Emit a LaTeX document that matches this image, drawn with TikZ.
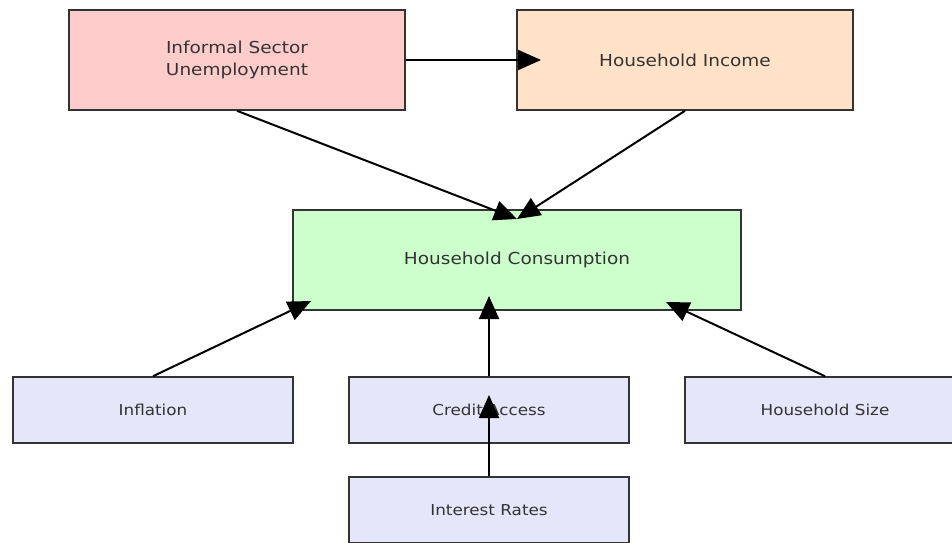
\documentclass[tikz,border=0pt]{standalone}
\usepackage{fontspec}
\setmainfont[FakeStretch=1.12]{DejaVu Sans}
\usetikzlibrary{arrows.meta}
\definecolor{txt}{HTML}{333333}
\definecolor{edge}{HTML}{333333}
\definecolor{redfill}{HTML}{FFCCCC}
\definecolor{orangefill}{HTML}{FFE2C8}
\definecolor{greenfill}{HTML}{CCFFCC}
\definecolor{bluefill}{HTML}{E6E6FA}
\tikzset{
  box/.style={draw=edge, line width=1.6pt, rectangle, inner sep=0pt, align=center, text=txt},
  bigbox/.style={box, minimum width=336pt, minimum height=100pt, font=\fontsize{16.5}{22}\selectfont},
  smallbox/.style={box, minimum width=280pt, minimum height=66pt, font=\fontsize{15}{19}\selectfont},
  conn/.style={line width=2pt, black, -{Triangle[length=23pt, width=20pt]}}
}
\begin{document}
\begin{tikzpicture}[x=1pt, y=-1pt]
\useasboundingbox (0,0) rectangle (952,542);
\begin{scope}
\clip (0,0) rectangle (952,542);
\node[bigbox, fill=redfill] (inf) at (237,60) {Informal Sector\\Unemployment};
\node[bigbox, fill=orangefill] (inc) at (685,60) {Household Income};
\node[bigbox, fill=greenfill, minimum width=448pt] (con) at (517,260) {Household Consumption};
\node[smallbox, fill=bluefill] (infl) at (153,410) {Inflation};
\node[smallbox, fill=bluefill] (cred) at (489,410) {Credit Access};
\node[smallbox, fill=bluefill] (size) at (825,410) {Household Size};
\node[smallbox, fill=bluefill] (int) at (489,510) {Interest Rates};
\coordinate (t1) at (541,60);
\coordinate (t2) at (517,219);
\coordinate (t3) at (311,301);
\coordinate (t4) at (489,296);
\coordinate (t5) at (666,302);
\coordinate (t6) at (489,395);
\draw[conn] (inf.east) -- (t1);
\draw[conn] (inf.south) -- (t2);
\draw[conn] (inc.south) -- (t2);
\draw[conn] (infl.north) -- (t3);
\draw[conn] (cred.north) -- (t4);
\draw[conn] (size.north) -- (t5);
\draw[conn] (int.north) -- (t6);
\end{scope}
\end{tikzpicture}
\end{document}
